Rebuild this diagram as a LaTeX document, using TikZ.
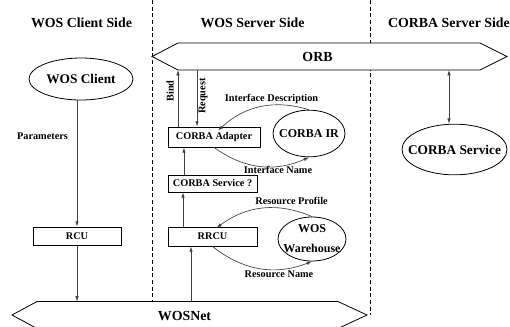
\documentclass[tikz,border=0pt]{standalone}
\usepackage{fontspec}
\setmainfont{Liberation Serif}
\usetikzlibrary{arrows.meta,shapes.geometric}

\tikzset{every picture/.style={line width=0.6pt}}
\tikzset{
unitbox/.style={draw, rectangle, inner sep=0pt, font=\fontsize{7.7}{9}\selectfont\bfseries},
unitell/.style={draw, ellipse, inner sep=0pt},
elltext/.style={font=\fontsize{10}{12}\selectfont\bfseries, inner sep=0pt},
smalltext/.style={font=\fontsize{9}{15}\selectfont\bfseries, align=center, inner sep=0pt},
sidetitle/.style={font=\fontsize{10.4}{12}\selectfont\bfseries},
msg/.style={font=\fontsize{7.7}{9}\selectfont\bfseries, inner sep=1pt},
flow/.style={draw=black!75, line width=0.5pt, -{Latex[length=4pt,width=2.6pt]}},
border/.style={dash pattern=on 3pt off 2pt, line width=0.5pt},
}

\begin{document}
\begin{tikzpicture}[x=0.75pt,y=0.75pt,yscale=-1,xscale=1]
\useasboundingbox (0,0) rectangle (510,326);

%Side borders
\draw [border] (152,0) -- (152,301.5) ;
\draw [border] (370.5,0) -- (370.5,315) ;

%Titles
\node [sidetitle] (ctitle) at (81.5,23) {WOS Client Side};
\node [sidetitle] (stitle) at (252.5,23) {WOS Server Side};
\node [sidetitle] (otitle) at (449,23) {CORBA Server Side};

%ORB bus
\draw [fill=white] (152,56.5) -- (178,43) -- (480,43) -- (507,56.5) -- (480,70) -- (178,70) -- cycle ;
\node [sidetitle] (orb) at (317.5,57) {ORB};
\coordinate (orbbind) at (178,70);
\coordinate (orbreq) at (197,70);
\coordinate (orbsvc) at (449,70);

%WOSNet bus
\draw [fill=white] (12,315) -- (37,301.5) -- (338,301.5) -- (367,315) -- (338,328.5) -- (37,328.5) -- cycle ;
\node [sidetitle] (wosnet) at (184.5,316) {WOSNet};
\coordinate (netrcu) at (77,301.5);
\coordinate (netrrcu) at (191,301.5);

%Units
\node [unitell, minimum width=78pt, minimum height=31.5pt] (client) at (81,79) {};
\node [elltext] (clienttxt) at (client) {WOS Client};
\node [unitbox, minimum width=66pt, minimum height=13.5pt] (rcu) at (77,236) {RCU};
\node [unitbox, minimum width=69pt, minimum height=15pt] (adapter) at (214,137) {CORBA Adapter};
\node [unitbox, minimum width=66.75pt, minimum height=12.75pt] (servq) at (212.5,183.5) {CORBA Service ?};
\node [unitbox, minimum width=66.75pt, minimum height=14.25pt] (rrcu) at (212.5,236.5) {RRCU};
\node [unitell, minimum width=54pt, minimum height=35pt] (ir) at (309,133.5) {};
\node [smalltext] (irtxt) at (ir) {CORBA IR};
\node [unitell, minimum width=51pt, minimum height=33pt] (ware) at (312,239) {};
\node [smalltext] (waretxt) at (ware) {WOS\\Warehouse};
\node [unitell, minimum width=78.75pt, minimum height=38pt] (svc) at (454.5,149.5) {};
\node [elltext] (svctxt) at (svc) {CORBA Service};

%Connectors
\draw [flow] (client.south -| rcu.north) -- (rcu.north) ;
\draw [flow] (rcu.south) -- (netrcu) ;
\draw [flow] (netrrcu) -- (netrrcu |- rrcu.south) ;
\draw [flow] ([xshift=-22.1pt]rrcu.north) -- ([xshift=-22.1pt]rrcu.north |- servq.south) ;
\draw [flow] ([xshift=-21.4pt]servq.north) -- ([xshift=-21.4pt]servq.north |- adapter.south) ;
\draw [flow] (adapter.north -| orbbind) -- (orbbind) ;
\draw [flow] (orbreq) -- (orbreq |- adapter.north) ;
\draw [flow, {Latex[length=4pt,width=2.6pt]}-{Latex[length=4pt,width=2.6pt]}] (orbsvc) -- (orbsvc |- svc.north) ;
\draw [flow] (ir.north) to [bend left=30] ([xshift=3pt,yshift=3pt]adapter.north) ;
\draw [flow] (adapter.south) to [bend left=30] (ir.south) ;
\draw [flow] (ware.north) to [bend left=30] ([xshift=3pt,yshift=1pt]rrcu.north) ;
\draw [flow] (rrcu.south) to [bend left=30] (ware.south) ;

%Labels
\node [msg, rotate=90] (bindlbl) at (170,91) {Bind};
\node [msg, rotate=90] (reqlbl) at (203,96) {Request};
\node [msg] (paramlbl) at (42.5,136.5) {Parameters};
\node [msg] (idesc) at (271.5,99) {Interface Description};
\node [msg] (iname) at (278,170) {Interface Name};
\node [msg] (rprof) at (291.5,201) {Resource Profile};
\node [msg] (rname) at (279,274) {Resource Name};
\end{tikzpicture}
\end{document}
